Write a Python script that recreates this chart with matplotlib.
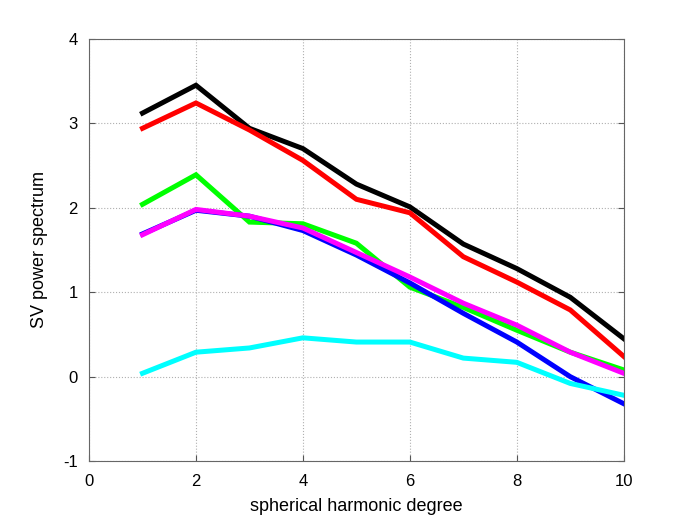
import matplotlib
matplotlib.use("Agg")
import matplotlib.pyplot as plt

plt.rcParams['font.family'] = ['Liberation Sans', 'DejaVu Sans']
plt.rcParams['axes.unicode_minus'] = False

degree = [1, 2, 3, 4, 5, 6, 7, 8, 9, 10]
black = [3.12, 3.45, 2.94, 2.70, 2.28, 2.01, 1.57, 1.28, 0.94, 0.45]
red = [2.94, 3.24, 2.92, 2.56, 2.10, 1.94, 1.42, 1.12, 0.79, 0.24]
green = [2.04, 2.39, 1.83, 1.81, 1.58, 1.06, 0.82, 0.55, 0.29, 0.08]
blue = [1.69, 1.97, 1.90, 1.73, 1.44, 1.11, 0.75, 0.41, 0.00, -0.32]
magenta = [1.68, 1.98, 1.90, 1.76, 1.47, 1.18, 0.87, 0.61, 0.29, 0.04]
cyan = [0.04, 0.29, 0.34, 0.46, 0.41, 0.41, 0.22, 0.17, -0.08, -0.22]

fig = plt.figure(figsize=(6.9, 5.17), dpi=100)
ax = fig.add_axes([0.129, 0.108, 0.775, 0.817])

for y, c in [(black, 'k'), (red, '#ff0000'), (green, '#00ff00'),
             (blue, '#0000ff'), (magenta, '#ff00ff'), (cyan, '#00ffff')]:
    ax.plot(degree, y, color=c, linewidth=3.6, solid_joinstyle='miter')

ax.set_xlim(0, 10)
ax.set_ylim(-1, 4)
ax.set_xticks([0, 2, 4, 6, 8, 10])
ax.set_yticks([-1, 0, 1, 2, 3, 4])
ax.grid(True, color='#b0b0b0', linestyle=':', linewidth=0.8)
ax.tick_params(direction='in', length=4, labelsize=12, colors='#555555',
               labelcolor='black', top=False, right=True)
ax.tick_params(axis='x', pad=9)
ax.tick_params(axis='y', pad=8)
for s in ax.spines.values():
    s.set_color('#666666')
    s.set_linewidth(0.8)
ax.set_xlabel('spherical harmonic degree', fontsize=13, labelpad=7)
ax.set_ylabel('SV power spectrum', fontsize=13, labelpad=11)

fig.savefig('out.png', dpi=100)
